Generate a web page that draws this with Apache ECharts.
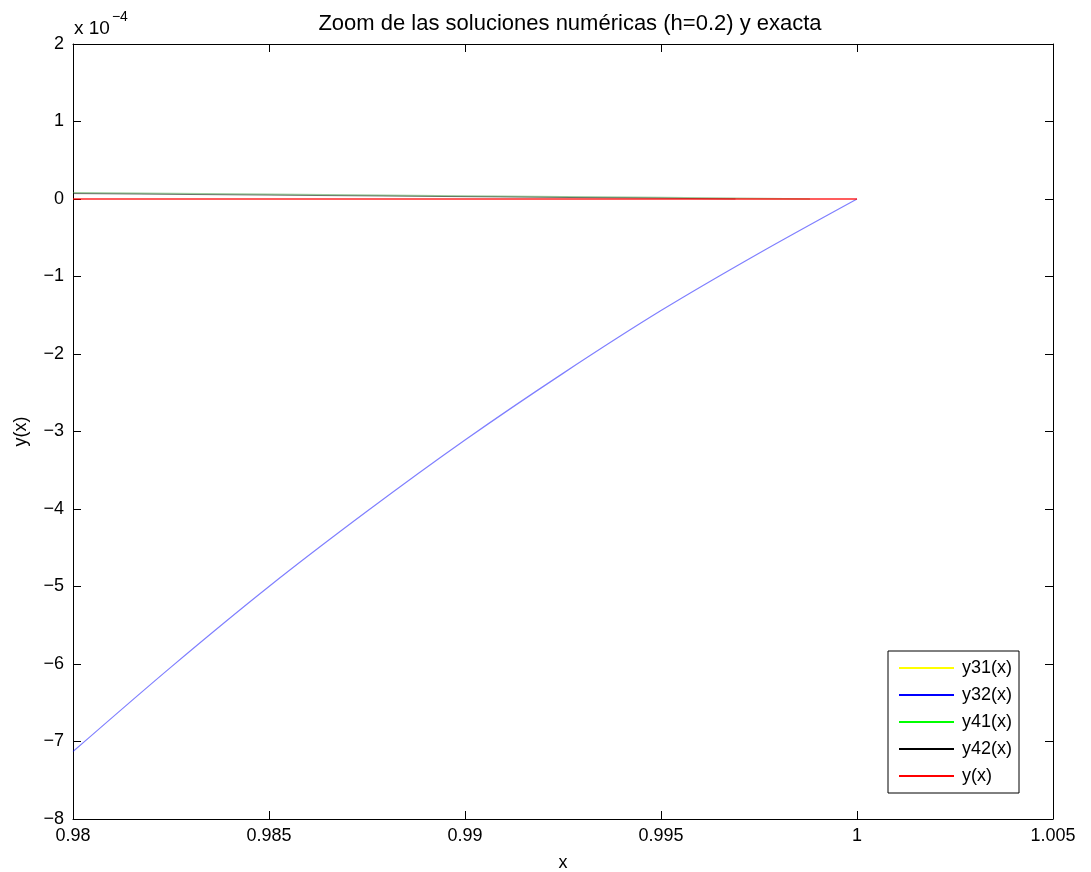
<!DOCTYPE html>
<html>
<head>
<meta charset="utf-8">
<script src="https://cdn.jsdelivr.net/npm/echarts@6/dist/echarts.min.js"></script>
<style>html,body{margin:0;padding:0;background:#fff;}#c{width:1091px;height:872px;}</style>
</head>
<body>
<div id="c"></div>
<script>
// values in units of 1e-4
const xBlue = [0.98, 0.9825, 0.985, 0.9875, 0.99, 0.9925, 0.995, 0.9975, 1.0];
const y32 = [-7.13, -6.04, -5.00, -4.03, -3.11, -2.25, -1.44, -0.70, 0];
const xGreen = [0.98, 0.985, 0.99, 0.995, 0.9988];
const y41 = [0.08, 0.06, 0.04, 0.02, 0.0];
const xBlack = [0.98, 0.985, 0.99, 0.995, 0.9969];
const y42 = [0.07, 0.05, 0.03, 0.01, 0.0];
const xExact = [0.98, 1.0];
const yExact = [0, 0];
const y31 = [];
const seriesNames = ['y31(x)', 'y32(x)', 'y41(x)', 'y42(x)', 'y(x)'];
const seriesColors = ['#ffff00', '#0000ff', '#00ff00', '#000000', '#ff0000'];

const pair = (xs, ys) => xs.map((x, i) => [x, ys[i]]);
const font = 'Liberation Sans, Arial, sans-serif';
const fmtX = v => String(parseFloat(Number(v).toFixed(4)));
const fmtY = v => { const n = Math.round(v); return n < 0 ? '\u2212' + Math.abs(n) : String(n); };

const chart = echarts.init(document.getElementById('c'));
const baseAxis = {
  axisLine: { show: true, onZero: false, lineStyle: { color: '#000', width: 1 } },
  axisTick: { show: true, inside: true, length: 8, lineStyle: { color: '#000' } },
  splitLine: { show: false }
};
chart.setOption({
  animation: false,
  backgroundColor: '#fff',
  title: {
    text: 'Zoom de las soluciones numéricas (h=0.2) y exacta',
    left: 565, top: 8, textAlign: 'center',
    textStyle: { fontFamily: font, fontSize: 22, fontWeight: 'normal', color: '#000' }
  },
  grid: { left: 73, right: 38, top: 44, bottom: 53, containLabel: false, outerBoundsMode: 'none' },
  legend: {
    orient: 'vertical', left: 888, top: 651,
    data: seriesNames,
    icon: 'rect', itemWidth: 55, itemHeight: 2, itemGap: 9,
    padding: [8, 7, 8, 11],
    borderColor: '#000', borderWidth: 1, backgroundColor: '#fff',
    textStyle: { fontFamily: font, fontSize: 18, color: '#000', padding: [0, 0, 0, 3] }
  },
  xAxis: [
    Object.assign({}, baseAxis, {
      type: 'value', min: 0.98, max: 1.005, interval: 0.005, position: 'bottom',
      axisLabel: { formatter: fmtX, fontFamily: font, fontSize: 18, color: '#000', margin: 8 },
      name: 'x', nameLocation: 'middle', nameGap: 35,
      nameTextStyle: { fontFamily: font, fontSize: 18, color: '#000' }
    }),
    Object.assign({}, baseAxis, {
      type: 'value', min: 0.98, max: 1.005, interval: 0.005, position: 'top',
      axisLabel: { show: false }
    })
  ],
  yAxis: [
    Object.assign({}, baseAxis, {
      type: 'value', min: -8, max: 2, interval: 1, position: 'left',
      axisLabel: { formatter: fmtY, fontFamily: font, fontSize: 18, color: '#000', margin: 9 },
      name: 'y(x)', nameLocation: 'middle', nameGap: 43, nameRotate: 90,
      nameTextStyle: { fontFamily: font, fontSize: 18, color: '#000' }
    }),
    Object.assign({}, baseAxis, {
      type: 'value', min: -8, max: 2, interval: 1, position: 'right',
      axisLabel: { show: false }
    })
  ],
  graphic: [{
    type: 'text', left: 74, top: 10,
    style: {
      text: '{a|x 10}{b|\u22124}',
      rich: {
        a: { fontFamily: font, fontSize: 19, color: '#000', padding: [9, 0, 0, 0] },
        b: { fontFamily: font, fontSize: 14, color: '#000', verticalAlign: 'top', padding: [0, 0, 9, 2] }
      }
    }
  }],
  series: [
    { name: 'y31(x)', type: 'line', data: y31, showSymbol: false, itemStyle: { color: seriesColors[0] }, lineStyle: { color: seriesColors[0], width: 1 } },
    { name: 'y32(x)', type: 'line', data: pair(xBlue, y32), smooth: 0.3, showSymbol: false, itemStyle: { color: seriesColors[1] }, lineStyle: { color: seriesColors[1], width: 1.2, opacity: 0.5 } },
    { name: 'y41(x)', type: 'line', data: pair(xGreen, y41), showSymbol: false, itemStyle: { color: seriesColors[2] }, lineStyle: { color: '#3a9a3a', width: 1.5, opacity: 0.5 } },
    { name: 'y42(x)', type: 'line', data: pair(xBlack, y42), showSymbol: false, itemStyle: { color: seriesColors[3] }, lineStyle: { color: seriesColors[3], width: 1, opacity: 0.5 } },
    { name: 'y(x)', type: 'line', data: pair(xExact, yExact), showSymbol: false, itemStyle: { color: seriesColors[4] }, lineStyle: { color: seriesColors[4], width: 1.5, opacity: 0.85 } }
  ]
});
</script>
</body>
</html>
